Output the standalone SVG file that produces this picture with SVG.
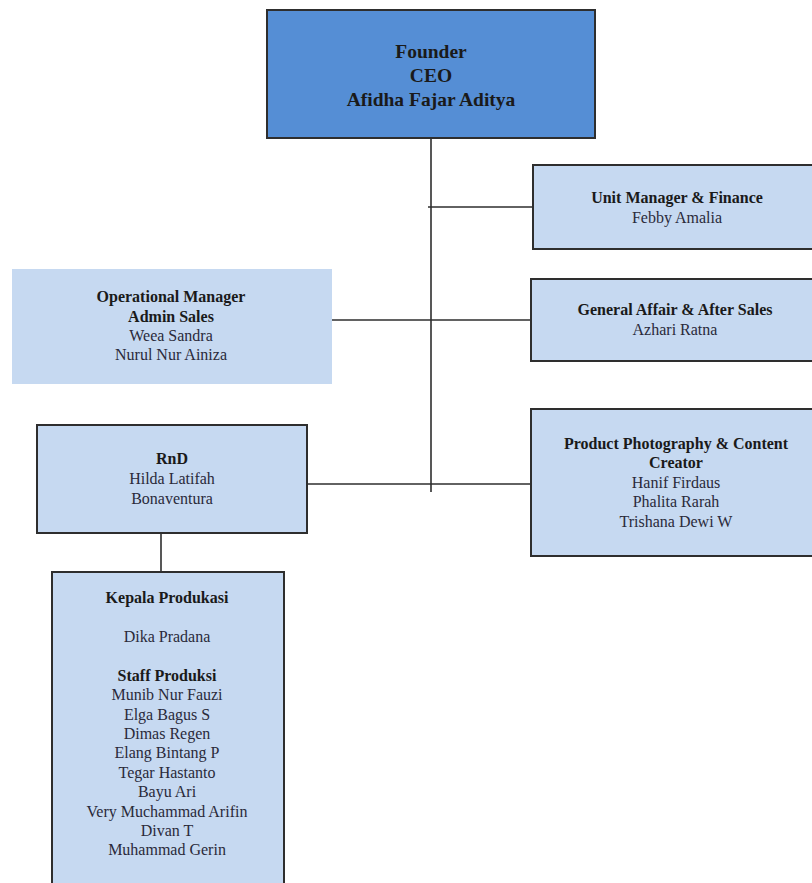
<svg xmlns="http://www.w3.org/2000/svg" width="812" height="883" viewBox="0 0 812 883">
<style>
.box{fill:#c6d9f1;stroke:#2e2e2e;stroke-width:2}
.ceo{fill:#558ed5;stroke:#2e2e2e;stroke-width:2}
.t{font-family:"Liberation Serif","Times New Roman",serif;text-anchor:middle;fill:#2a2a3a;font-size:16px}
.b{font-weight:bold;fill:#1a1a1a}
.big{font-size:19.5px}
.con{stroke:#2e2e2e;stroke-width:1.6;fill:none}
</style>
<rect width="812" height="883" fill="#ffffff"/>
<g id="connectors">
<line class="con" x1="431" y1="139" x2="431" y2="492"/>
<line class="con" x1="428" y1="207" x2="533" y2="207"/>
<line class="con" x1="332" y1="320" x2="531" y2="320"/>
<line class="con" x1="307" y1="484" x2="531" y2="484"/>
<line class="con" x1="161" y1="533" x2="161" y2="572"/>
</g>
<g id="ceo">
<rect class="ceo" x="267" y="10" width="328" height="128"/>
<text class="t b big" x="431" y="58">Founder</text>
<text class="t b big" x="431" y="82">CEO</text>
<text class="t b big" x="431" y="106">Afidha Fajar Aditya</text>
</g>
<g id="unit-manager">
<rect class="box" x="533" y="165" width="290" height="84"/>
<text class="t b" x="677" y="203">Unit Manager &amp; Finance</text>
<text class="t" x="677" y="223">Febby Amalia</text>
</g>
<g id="general-affair">
<rect class="box" x="531" y="279" width="292" height="82"/>
<text class="t b" x="675" y="315">General Affair &amp; After Sales</text>
<text class="t" x="675" y="335">Azhari Ratna</text>
</g>
<g id="operational">
<rect x="12" y="269" width="320" height="115" fill="#c6d9f1"/>
<text class="t b" x="171" y="302">Operational Manager</text>
<text class="t b" x="171" y="322">Admin Sales</text>
<text class="t" x="171" y="341">Weea Sandra</text>
<text class="t" x="171" y="360">Nurul Nur Ainiza</text>
</g>
<g id="rnd">
<rect class="box" x="37" y="425" width="270" height="108"/>
<text class="t b" x="172" y="464">RnD</text>
<text class="t" x="172" y="484">Hilda Latifah</text>
<text class="t" x="172" y="504">Bonaventura</text>
</g>
<g id="product">
<rect class="box" x="531" y="409" width="292" height="147"/>
<text class="t b" x="676" y="449">Product Photography &amp; Content</text>
<text class="t b" x="676" y="468">Creator</text>
<text class="t" x="676" y="488">Hanif Firdaus</text>
<text class="t" x="676" y="507">Phalita Rarah</text>
<text class="t" x="676" y="527">Trishana Dewi W</text>
</g>
<g id="produksi">
<rect class="box" x="52" y="572" width="232" height="330"/>
<text class="t b" x="167" y="603">Kepala Produkasi</text>
<text class="t" x="167" y="642">Dika Pradana</text>
<text class="t b" x="167" y="681">Staff Produksi</text>
<text class="t" x="167" y="700">Munib Nur Fauzi</text>
<text class="t" x="167" y="720">Elga Bagus S</text>
<text class="t" x="167" y="739">Dimas Regen</text>
<text class="t" x="167" y="758">Elang Bintang P</text>
<text class="t" x="167" y="778">Tegar Hastanto</text>
<text class="t" x="167" y="797">Bayu Ari</text>
<text class="t" x="167" y="817">Very Muchammad Arifin</text>
<text class="t" x="167" y="836">Divan T</text>
<text class="t" x="167" y="855">Muhammad Gerin</text>
</g>
</svg>
